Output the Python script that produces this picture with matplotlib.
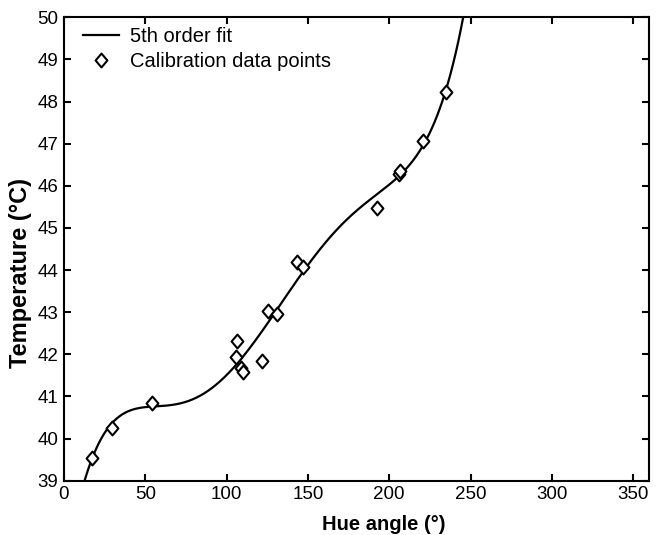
import matplotlib
matplotlib.use('Agg')
import matplotlib.pyplot as plt
import numpy as np
from matplotlib.path import Path

plt.rcParams['font.family'] = ['Liberation Sans', 'DejaVu Sans']

# calibration data: hue angle (deg) vs. temperature (degC)
hue = [17.0, 29.7, 54.1, 106.6, 105.8, 108.7, 109.9, 121.6, 125.6, 131.2,
       143.5, 147.2, 192.3, 206.3, 206.9, 220.6, 234.9]
temp = [39.55, 40.26, 40.84, 42.32, 41.94, 41.67, 41.57, 41.83, 43.03, 42.96,
        44.18, 44.08, 45.47, 46.27, 46.36, 47.06, 48.22]

xticks = [0, 50, 100, 150, 200, 250, 300, 350]
yticks = [39, 40, 41, 42, 43, 44, 45, 46, 47, 48, 49, 50]

# 5th order polynomial through the calibration points
coef = np.polyfit(hue, temp, 5)
xfit = np.linspace(10, 250, 600)
yfit = np.polyval(coef, xfit)

diamond = Path([(0, 1), (0.85, 0), (0, -1), (-0.85, 0), (0, 1)],
               [Path.MOVETO, Path.LINETO, Path.LINETO, Path.LINETO, Path.CLOSEPOLY])

fig = plt.figure(figsize=(6.63, 5.35), dpi=100)
ax = fig.add_axes([0.0965, 0.1015, 0.883, 0.8662])

ax.plot(xfit, yfit, color='black', lw=1.6, label='5th order fit')
ax.plot(hue, temp, ls='none', marker=diamond, ms=10, mfc='white',
        mec='black', mew=1.5, label='Calibration data points')

ax.set_xlim(0, 360)
ax.set_ylim(39, 50)
ax.set_xticks(xticks)
ax.set_yticks(yticks)
ax.tick_params(direction='in', length=5, width=1.5, top=True, right=True,
               labelsize=13.5, pad=4)
for s in ax.spines.values():
    s.set_linewidth(1.5)

ax.set_xlabel('Hue angle (°)', fontsize=14.5, fontweight='bold')
ax.set_ylabel('Temperature (°C)', fontsize=17, fontweight='bold')
ax.xaxis.set_label_coords(0.547, -0.073)
ax.yaxis.set_label_coords(-0.055, 0.448)

ax.legend(loc='upper left', bbox_to_anchor=(0.025, 0.988), frameon=False,
          fontsize=14.5, handlelength=1.8, handletextpad=0.55,
          labelspacing=0.3, borderaxespad=0, borderpad=0.2)

plt.savefig('out.png', dpi=100)
plt.close()
